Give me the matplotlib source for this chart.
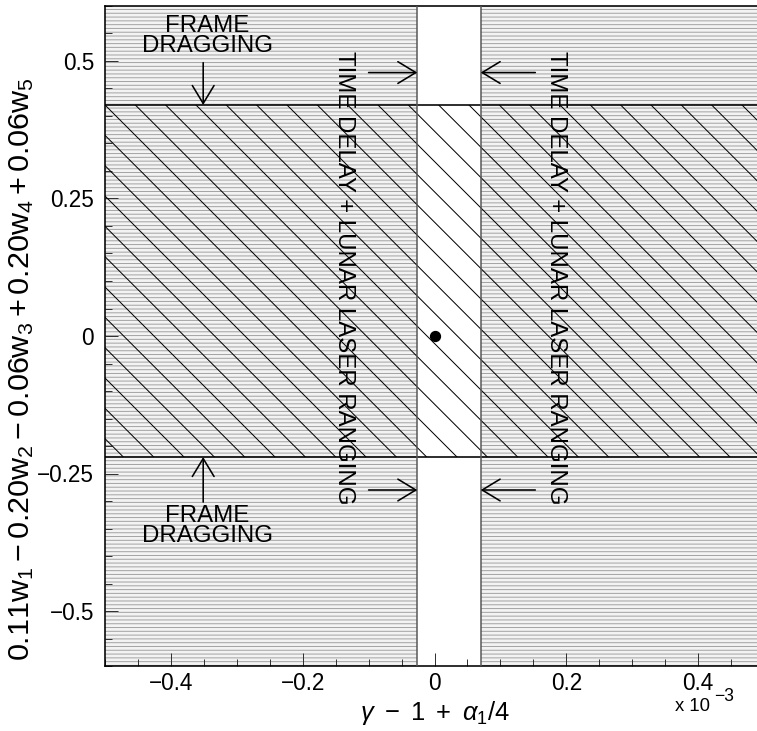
import matplotlib
matplotlib.use("Agg")
import matplotlib.pyplot as plt
from matplotlib.ticker import MultipleLocator

DPI = 91


def px(v):
    # pixel size -> points at the figure dpi
    return v * 72.0 / DPI


plt.rcParams['font.family'] = ['Liberation Sans', 'DejaVu Sans']
plt.rcParams['mathtext.fontset'] = 'custom'
plt.rcParams['mathtext.rm'] = 'Liberation Sans'
plt.rcParams['mathtext.it'] = 'Liberation Sans:italic'
plt.rcParams['mathtext.default'] = 'regular'
plt.rcParams['hatch.linewidth'] = px(1.0)

# constraint limits (x in units of 1e-3)
x_band = [-0.026, 0.070]    # time delay + lunar laser ranging
y_band = [-0.22, 0.42]      # frame dragging
best_fit_x = [0.0]
best_fit_y = [0.0]

xlim = [-0.5, 0.5]
ylim = [-0.6, 0.6]
xticks = [-0.4, -0.2, 0.0, 0.2, 0.4]
xtick_labels = ['\u22120.4', '\u22120.2', '0', '0.2', '0.4']
yticks = [-0.5, -0.25, 0.0, 0.25, 0.5]
ytick_labels = ['\u22120.5', '\u22120.25', '0', '0.25', '0.5']

fig = plt.figure(figsize=(757 / DPI, 731 / DPI), dpi=DPI)
ax = fig.add_axes([105 / 757, 65 / 731, 659 / 757, 660 / 731])

# excluded by time delay + LLR (stippled)
stip = dict(facecolor='#f3f3f3', edgecolor='#a4a4a4', hatch='----', linewidth=0, zorder=1)
ax.axvspan(xlim[0], x_band[0], **stip)
ax.axvspan(x_band[1], xlim[1], **stip)

# allowed by frame dragging (diagonal hatch)
ax.axhspan(y_band[0], y_band[1], facecolor='none', edgecolor='black', hatch='\\',
           linewidth=0, zorder=2)

for yb in y_band:
    ax.axhline(yb, color='black', lw=px(1.6), zorder=3)
for xb in x_band:
    ax.axvline(xb, color='#555555', lw=px(1.5), zorder=3)

ax.plot(best_fit_x, best_fit_y, 'o', color='black', ms=px(10), zorder=5)

arrow = dict(arrowstyle='->,head_length=0.71,head_width=0.43', color='black',
             lw=px(1.6), mutation_scale=20, shrinkA=0, shrinkB=0)

# side arrows pointing at the allowed strip
for ya in [0.479, -0.28]:
    ax.annotate('', xy=(x_band[0], ya), xytext=(-0.100, ya), arrowprops=arrow, zorder=6)
    ax.annotate('', xy=(x_band[1], ya), xytext=(0.153, ya), arrowprops=arrow, zorder=6)

# frame dragging arrows
ax.annotate('', xy=(-0.351, y_band[1]), xytext=(-0.351, 0.497), arrowprops=arrow, zorder=6)
ax.annotate('', xy=(-0.351, y_band[0]), xytext=(-0.351, -0.302), arrowprops=arrow, zorder=6)
for yt in [0.545, -0.346]:
    ax.text(-0.345, yt, 'FRAME\nDRAGGING', ha='center', va='center', fontsize=px(24),
            linespacing=0.9, zorder=6)

for xt in [-0.137, 0.184]:
    ax.text(xt, 0.106, 'TIME DELAY + LUNAR LASER RANGING', rotation=-90,
            ha='center', va='center', fontsize=px(24), zorder=6)

ax.set_xlim(xlim)
ax.set_ylim(ylim)
ax.set_xticks(xticks)
ax.set_xticklabels(xtick_labels)
ax.set_yticks(yticks)
ax.set_yticklabels(ytick_labels)
ax.xaxis.set_minor_locator(MultipleLocator(0.05))
ax.yaxis.set_minor_locator(MultipleLocator(0.05))
ax.tick_params(which='both', direction='in', top=False, right=False,
               labelsize=px(22.5), width=px(1.0), color='#333333')
ax.tick_params(which='major', length=px(13))
ax.tick_params(which='minor', length=px(7))
ax.tick_params(axis='x', which='major', pad=px(6))
ax.tick_params(axis='y', which='major', pad=px(11))
for s in ['left', 'bottom', 'top']:
    ax.spines[s].set_linewidth(px(1.6))
ax.spines['right'].set_visible(False)

ax.set_xlabel(r'$\mathit{\gamma}\ -\ 1\ +\ \mathit{\alpha}_1/4$', fontsize=px(25.5))
ax.xaxis.label.set_va('center')
ax.xaxis.set_label_coords(0.5, -0.071)
ax.set_ylabel(r'$0.11w_1-0.20w_2-0.06w_3+0.20w_4+0.06w_5$', fontsize=px(30.5))
ax.yaxis.label.set_va('center')
ax.yaxis.set_label_coords(-0.126, 0.45)

ax.text(0.892, -0.062, 'x 10', transform=ax.transAxes,
        ha='center', va='center', fontsize=px(18.5))
ax.text(0.925, -0.046, '\u22123', transform=ax.transAxes,
        ha='left', va='center', fontsize=px(17.5))

fig.savefig('out.png', dpi=DPI)
